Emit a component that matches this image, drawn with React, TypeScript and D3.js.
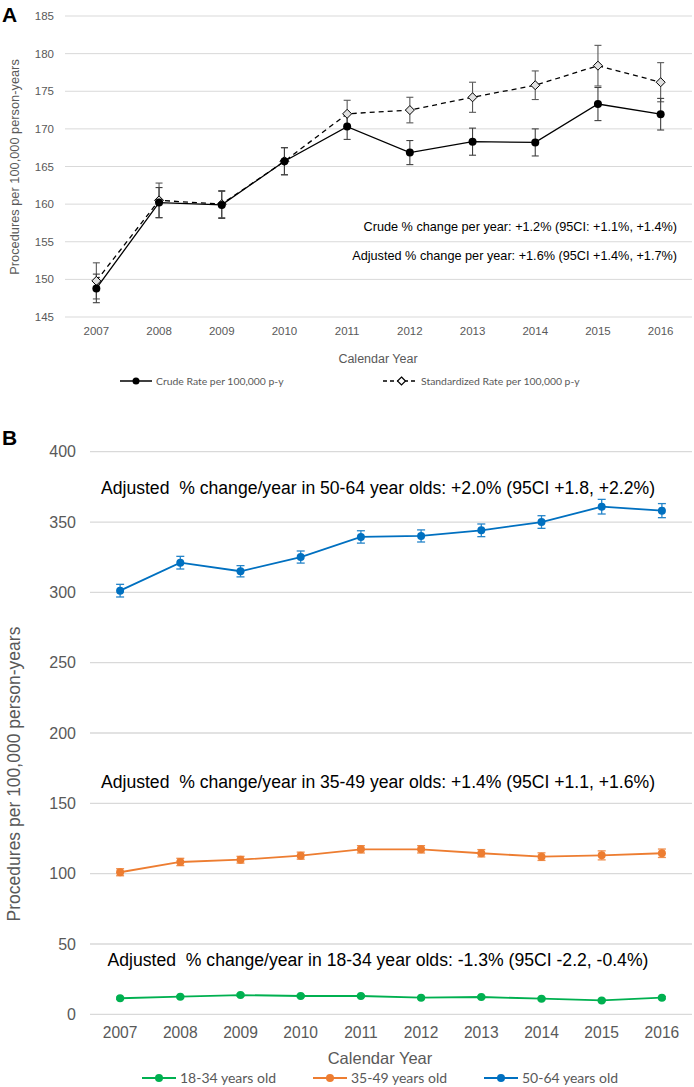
import React from "react";
import * as d3 from "d3";

const years = [2007, 2008, 2009, 2010, 2011, 2012, 2013, 2014, 2015, 2016];

// Panel A
const crudeRate = [148.8, 160.2, 159.9, 165.7, 170.3, 166.85, 168.3, 168.2, 173.3, 171.95];
const crudeErr = [1.9, 2.0, 1.8, 1.8, 1.7, 1.6, 1.8, 1.8, 2.2, 2.1];
const stdRate = [149.8, 160.5, 160.0, 165.7, 172.0, 172.5, 174.2, 175.8, 178.4, 176.2];
const stdErr = [2.4, 2.3, 1.8, 1.8, 1.8, 1.7, 2.0, 1.9, 2.7, 2.6];
const aTicks = [145, 150, 155, 160, 165, 170, 175, 180, 185];

// Panel B
const age1834 = [11.4, 12.5, 13.7, 13.0, 13.0, 11.8, 12.3, 11.1, 9.9, 11.8];
const age3549 = [101.0, 108.3, 109.9, 112.8, 117.3, 117.3, 114.5, 112.1, 113.0, 114.5];
const err3549 = [2.5, 2.6, 2.4, 2.5, 2.6, 2.6, 2.6, 2.7, 3.2, 3.0];
const age5064 = [301.2, 321.1, 315.0, 325.1, 339.4, 340.1, 344.1, 350.0, 360.9, 358.1];
const err5064 = [4.5, 4.5, 4.0, 4.3, 4.4, 4.3, 4.5, 4.5, 5.2, 5.0];
const err1834 = [0.8, 0.8, 0.9, 0.8, 0.8, 0.8, 0.8, 0.8, 0.8, 0.8];
const bTicks = [0, 50, 100, 150, 200, 250, 300, 350, 400];

const seriesB = [
  { name: "18-34 years old", values: age1834, err: err1834, color: "#00B050" },
  { name: "35-49 years old", values: age3549, err: err3549, color: "#ED7D31" },
  { name: "50-64 years old", values: age5064, err: err5064, color: "#0070C0" },
];

const annotationsB = [
  { text: "Adjusted  % change/year in 50-64 year olds: +2.0% (95CI +1.8, +2.2%)", value: 374 },
  { text: "Adjusted  % change/year in 35-49 year olds: +1.4% (95CI +1.1, +1.6%)", value: 165 },
  { text: "Adjusted  % change/year in 18-34 year olds: -1.3% (95CI -2.2, -0.4%)", value: 38.5 },
];

const GRID = "#D9D9D9";
const AXIS_TXT = "#595959";
const ARIAL = "'Liberation Sans', Arial, sans-serif";
const CAL = "Lato, 'Open Sans', sans-serif";

export default function App() {
  // Panel A scales
  const xA = d3.scaleBand<number>().domain(years).range([65, 692]);
  const yA = d3.scaleLinear().domain([145, 185]).range([317, 16]);
  const cxA = (y: number) => (xA(y) as number) + xA.bandwidth() / 2;

  const lineA = d3
    .line<number>()
    .x((_, i) => cxA(years[i]))
    .y((d) => yA(d));

  // Panel B scales
  const xB = d3.scaleBand<number>().domain(years).range([90, 692]);
  const yB = d3.scaleLinear().domain([0, 400]).range([1014.3, 451.7]);
  const cxB = (y: number) => (xB(y) as number) + xB.bandwidth() / 2;
  const lineB = d3
    .line<number>()
    .x((_, i) => cxB(years[i]))
    .y((d) => yB(d));

  const diamond = (cx: number, cy: number, s: number) =>
    `M${cx},${cy - s}L${cx + s},${cy}L${cx},${cy + s}L${cx - s},${cy}Z`;

  return (
    <svg
      width={694}
      height={1087}
      style={{ position: "absolute", left: 0, top: 0, background: "#fff" }}
    >
      <rect x={0} y={0} width={694} height={1087} fill="#fff" />
      {/* ===== Panel A ===== */}
      <text x={2} y={22} fontFamily={ARIAL} fontWeight="bold" fontSize={21} fill="#000">
        A
      </text>
      {aTicks.map((t) => (
        <g key={"ag" + t}>
          <line x1={65} x2={692} y1={yA(t)} y2={yA(t)} stroke={GRID} strokeWidth={1} />
          <text
            x={54}
            y={yA(t)}
            dy="0.35em"
            textAnchor="end"
            fontFamily={ARIAL}
            fontSize={11.5}
            fill={AXIS_TXT}
          >
            {t}
          </text>
        </g>
      ))}
      {years.map((y) => (
        <text
          key={"ax" + y}
          x={cxA(y)}
          y={331}
          dy="0.35em"
          textAnchor="middle"
          fontFamily={ARIAL}
          fontSize={11.5}
          fill={AXIS_TXT}
        >
          {y}
        </text>
      ))}
      <text
        x={378}
        y={359}
        dy="0.35em"
        textAnchor="middle"
        fontFamily={ARIAL}
        fontSize={12.5}
        fill={AXIS_TXT}
      >
        Calendar Year
      </text>
      <text
        transform={`translate(15,167) rotate(-90)`}
        textAnchor="middle"
        dy="0.35em"
        fontFamily={ARIAL}
        fontSize={12.8}
        fill={AXIS_TXT}
      >
        Procedures per 100,000 person-years
      </text>

      {/* error bars A */}
      {stdRate.map((v, i) => {
        const x = cxA(years[i]);
        return (
          <g key={"se" + i} stroke="#595959" strokeWidth={1.1}>
            <line x1={x} x2={x} y1={yA(v - stdErr[i])} y2={yA(v + stdErr[i])} />
            <line x1={x - 3.5} x2={x + 3.5} y1={yA(v - stdErr[i])} y2={yA(v - stdErr[i])} />
            <line x1={x - 3.5} x2={x + 3.5} y1={yA(v + stdErr[i])} y2={yA(v + stdErr[i])} />
          </g>
        );
      })}
      {crudeRate.map((v, i) => {
        const x = cxA(years[i]);
        return (
          <g key={"ce" + i} stroke="#404040" strokeWidth={1.1}>
            <line x1={x} x2={x} y1={yA(v - crudeErr[i])} y2={yA(v + crudeErr[i])} />
            <line x1={x - 3.5} x2={x + 3.5} y1={yA(v - crudeErr[i])} y2={yA(v - crudeErr[i])} />
            <line x1={x - 3.5} x2={x + 3.5} y1={yA(v + crudeErr[i])} y2={yA(v + crudeErr[i])} />
          </g>
        );
      })}
      <path d={lineA(stdRate) || ""} fill="none" stroke="#000" strokeWidth={1.3} strokeDasharray="5,4" />
      <path d={lineA(crudeRate) || ""} fill="none" stroke="#000" strokeWidth={1.3} />
      {stdRate.map((v, i) => (
        <path
          key={"sm" + i}
          d={diamond(cxA(years[i]), yA(v), 4.5)}
          fill="#E0E0E0"
          stroke="#000"
          strokeWidth={1}
        />
      ))}
      {crudeRate.map((v, i) => (
        <circle key={"cm" + i} cx={cxA(years[i])} cy={yA(v)} r={4} fill="#000" />
      ))}

      <text x={677} y={227} dy="0.35em" textAnchor="end" fontFamily={ARIAL} fontSize={12.7} fill="#000">
        Crude % change per year: +1.2% (95CI: +1.1%, +1.4%)
      </text>
      <text x={677} y={256} dy="0.35em" textAnchor="end" fontFamily={ARIAL} fontSize={12.7} fill="#000">
        Adjusted % change per year: +1.6% (95CI +1.4%, +1.7%)
      </text>

      {/* legend A */}
      <g>
        <line x1={120} x2={152} y1={381} y2={381} stroke="#000" strokeWidth={1.5} />
        <circle cx={136} cy={381} r={3.5} fill="#000" />
        <text x={156} y={381} dy="0.35em" fontFamily={CAL} fontSize={10.4} fill={AXIS_TXT}>
          Crude Rate per 100,000 p-y
        </text>
        <line x1={383} x2={417} y1={381} y2={381} stroke="#000" strokeWidth={1.5} strokeDasharray="4,3" />
        <path d={diamond(401.5, 381, 4)} fill="#fff" stroke="#000" strokeWidth={1.2} />
        <text x={421} y={381} dy="0.35em" fontFamily={CAL} fontSize={10.4} fill={AXIS_TXT}>
          Standardized Rate per 100,000 p-y
        </text>
      </g>

      {/* ===== Panel B ===== */}
      <text x={2} y={445} fontFamily={ARIAL} fontWeight="bold" fontSize={21} fill="#000">
        B
      </text>
      {bTicks.map((t) => (
        <g key={"bg" + t}>
          <line x1={90} x2={692} y1={yB(t)} y2={yB(t)} stroke={GRID} strokeWidth={1.3} />
          <text
            x={76}
            y={yB(t)}
            dy="0.35em"
            textAnchor="end"
            fontFamily={ARIAL}
            fontSize={16}
            fill={AXIS_TXT}
          >
            {t}
          </text>
        </g>
      ))}
      {years.map((y) => (
        <text
          key={"bx" + y}
          x={cxB(y)}
          y={1033}
          dy="0.35em"
          textAnchor="middle"
          fontFamily={ARIAL}
          fontSize={15.6}
          fill={AXIS_TXT}
        >
          {y}
        </text>
      ))}
      <text
        x={380}
        y={1058}
        dy="0.35em"
        textAnchor="middle"
        fontFamily={ARIAL}
        fontSize={16.5}
        fill={AXIS_TXT}
      >
        Calendar Year
      </text>
      <text
        transform={`translate(14,774) rotate(-90)`}
        textAnchor="middle"
        dy="0.35em"
        fontFamily={ARIAL}
        fontSize={17.5}
        fill={AXIS_TXT}
      >
        Procedures per 100,000 person-years
      </text>

      {annotationsB.map((a) => (
        <text
          key={a.text}
          x={378}
          y={yB(a.value)}
          dy="0.35em"
          textAnchor="middle"
          fontFamily={ARIAL}
          fontSize={17.6}
          fill="#000"
          style={{ whiteSpace: "pre" }}
        >
          {a.text}
        </text>
      ))}

      {seriesB.map((s) => (
        <g key={s.name}>
          {s.values.map((v, i) => {
            const x = cxB(years[i]);
            return (
              <g key={i} stroke={s.color} strokeWidth={1.3} opacity={0.85}>
                <line x1={x} x2={x} y1={yB(v - s.err[i])} y2={yB(v + s.err[i])} />
                <line x1={x - 4} x2={x + 4} y1={yB(v - s.err[i])} y2={yB(v - s.err[i])} />
                <line x1={x - 4} x2={x + 4} y1={yB(v + s.err[i])} y2={yB(v + s.err[i])} />
              </g>
            );
          })}
          <path d={lineB(s.values) || ""} fill="none" stroke={s.color} strokeWidth={1.8} />
          {s.values.map((v, i) => (
            <circle key={"m" + i} cx={cxB(years[i])} cy={yB(v)} r={4} fill={s.color} />
          ))}
        </g>
      ))}

      {/* legend B */}
      {seriesB.map((s, i) => {
        const x0 = [142, 313, 484][i];
        return (
          <g key={"lg" + s.name}>
            <line x1={x0} x2={x0 + 34} y1={1078} y2={1078} stroke={s.color} strokeWidth={2} />
            <circle cx={x0 + 17} cy={1078} r={4} fill={s.color} />
            <text x={x0 + 38} y={1078} dy="0.35em" fontFamily={CAL} fontSize={14} fill={AXIS_TXT}>
              {s.name}
            </text>
          </g>
        );
      })}
    </svg>
  );
}
